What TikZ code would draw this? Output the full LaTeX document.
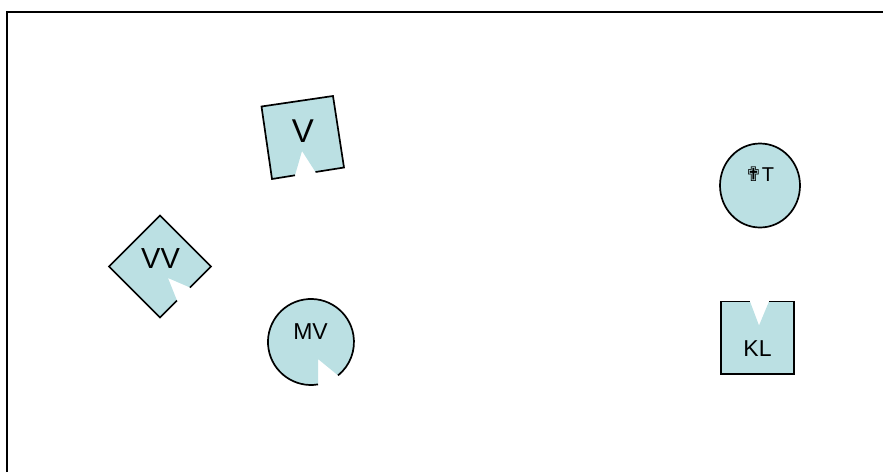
\documentclass[tikz,border=0pt]{standalone}
\usepackage{fontspec}
\setmainfont{Liberation Sans}
\newfontfamily\symfont{DejaVu Sans}
\usepackage{tikz}
\usetikzlibrary{calc}

\definecolor{piecefill}{RGB}{187,224,227}

\begin{document}
\begin{tikzpicture}[x=1pt, y=-1pt,
    piece/.style={fill=piecefill, draw=none},
    outline/.style={draw=black, line width=1.7pt, line join=miter},
    frame/.style={draw=black, line width=1.7pt},
    tag/.style={inner sep=0pt, anchor=base, text=black}
    ]
    \useasboundingbox (0,0) rectangle (883,472);

    % the frame, only top and left show
    \coordinate (frameBL) at (7,472);
    \coordinate (frameTL) at (7,12);
    \coordinate (frameTR) at (883,12);
    \draw[frame] (frameBL) -- (frameTL) -- (frameTR);

    % tilted square with notch at the bottom
    \path[piece] (261.5,106.5) -- (333,96) -- (344,167.5) -- (315.5,172)
        -- (302,151) -- (295,175.3) -- (272,179) -- cycle;
    \draw[outline] (295,175.3) -- (272,179) -- (261.5,106.5) -- (333,96)
        -- (344,167.5) -- (315.5,172);
    \node[tag, font=\fontsize{33}{33}\selectfont] (V) at (303,142.5) {V};

    % diamond with notch on the lower right edge
    \path[piece] (160,215.5) -- (211,266.5) -- (190,287.5) -- (168,278)
        -- (177,300.5) -- (160,317.5) -- (109,266.5) -- cycle;
    \draw[outline] (177,300.5) -- (160,317.5) -- (109,266.5) -- (160,215.5)
        -- (211,266.5) -- (190,287.5);
    \node[tag, font=\fontsize{29}{29}\selectfont] (VV) at (160.5,268.3) {VV};

    % circle with a wedge cut out
    \path[piece] (318,359) -- (318,384.4) arc[start angle=80.6, end angle=411, radius=43] -- cycle;
    \draw[outline] (318,384.4) arc[start angle=80.6, end angle=411, radius=43];
    \node[tag, font=\fontsize{23}{23}\selectfont] (MV) at (310.5,339.3) {MV};

    % plain ellipse
    \path[piece, outline] (760,185.5) ellipse[x radius=40, y radius=42];
    \node[tag, font=\fontsize{20}{20}\selectfont] (T) at (759.5,181.7) {{\symfont ✟}T};

    % square with notch at the top
    \path[piece] (721,301.5) -- (750,301.5) -- (759,325.5) -- (769,301.5)
        -- (794,301.5) -- (794,374) -- (721,374) -- cycle;
    \draw[outline] (769,301.5) -- (794,301.5) -- (794,374) -- (721,374)
        -- (721,301.5) -- (750,301.5);
    \node[tag, font=\fontsize{23}{23}\selectfont] (KL) at (757.5,356.7) {KL};
\end{tikzpicture}
\end{document}
